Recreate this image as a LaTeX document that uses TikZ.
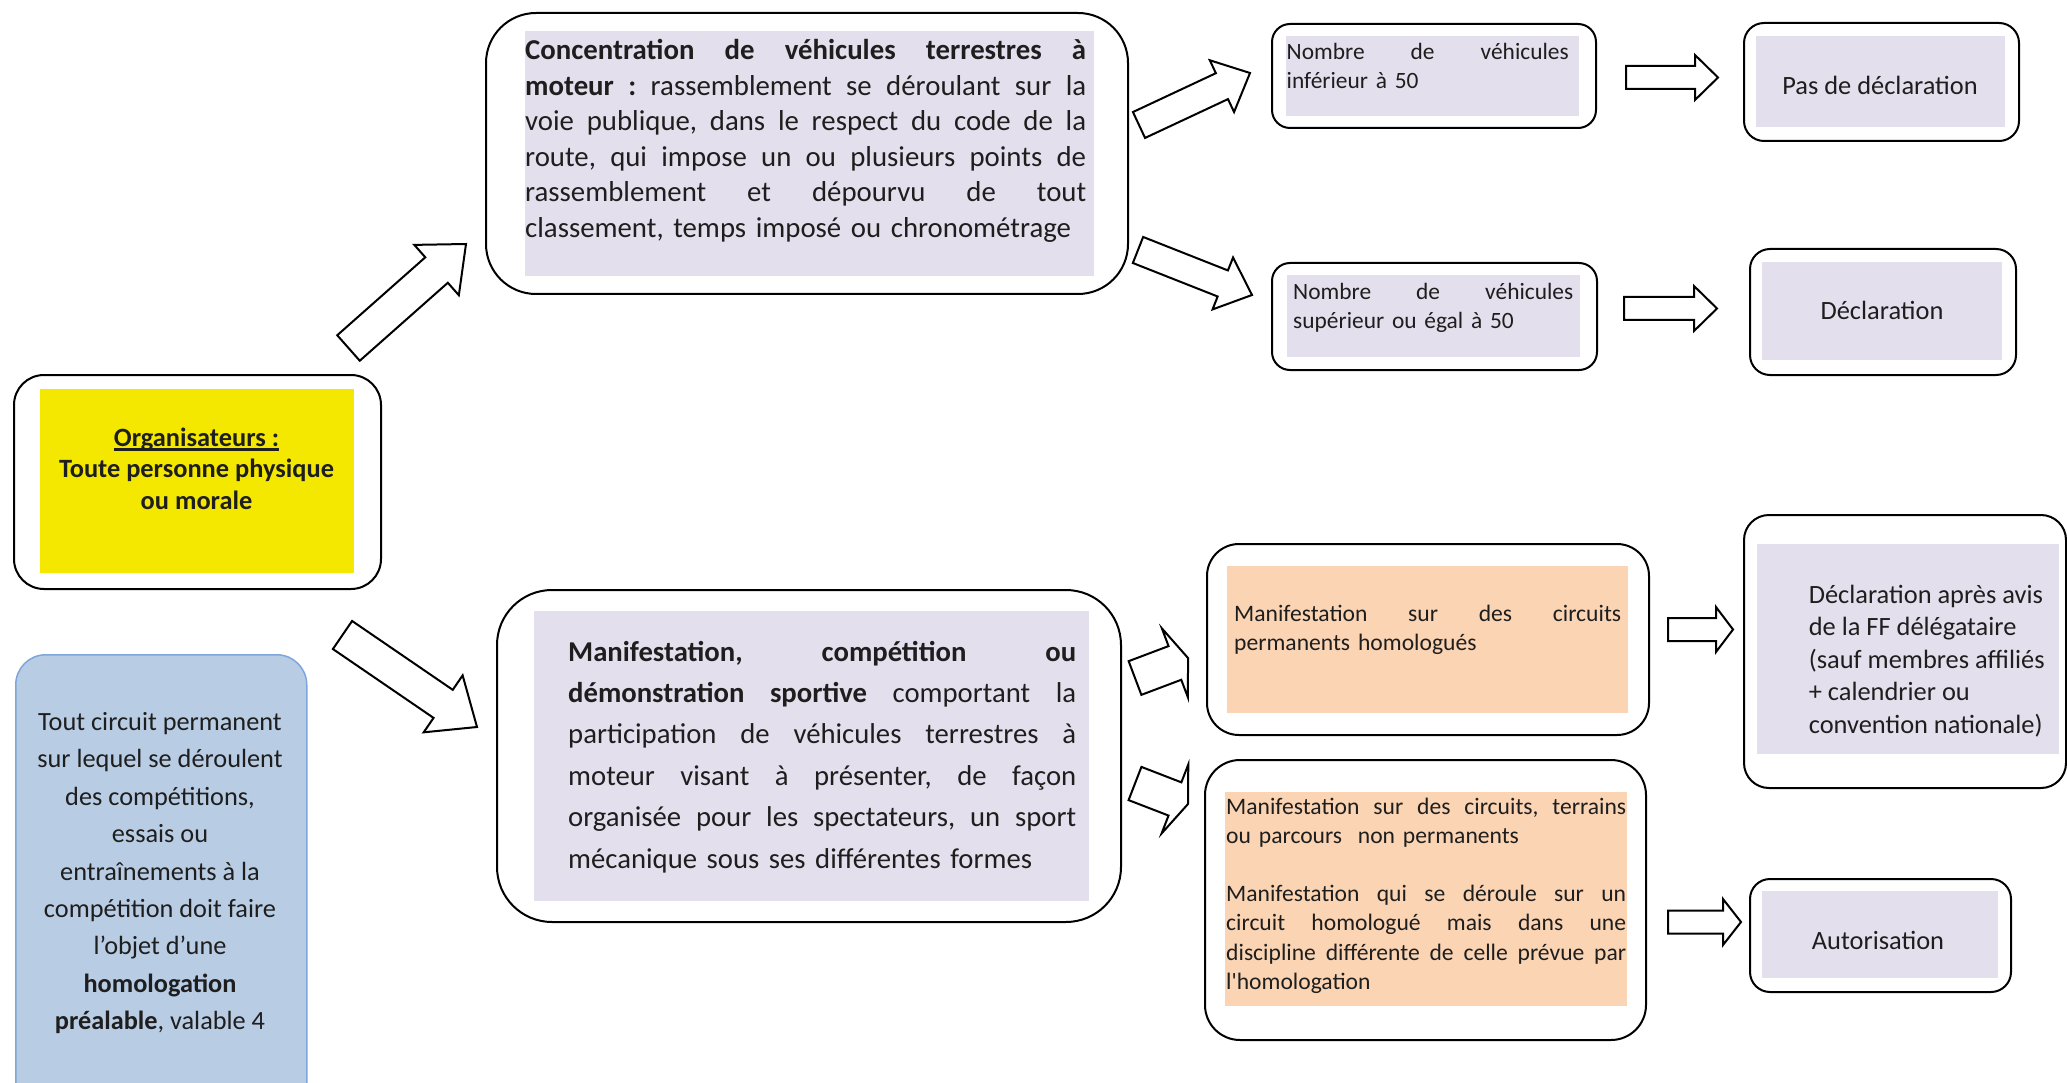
\documentclass[tikz,border=0pt]{standalone}
\usepackage{fontspec}
\setmainfont{Carlito}
\usetikzlibrary{calc}
\definecolor{lav}{HTML}{E4DFEC}
\definecolor{peach}{HTML}{FBD4B4}
\definecolor{yel}{HTML}{F5E800}
\definecolor{bluefill}{HTML}{B8CCE4}
\definecolor{blueline}{HTML}{7EA6DC}
\definecolor{txt}{HTML}{1E1E1E}
\newlength\jw
\newcommand\ulbox[1]{\setbox0\hbox{#1}\rlap{\rule[-4.6pt]{\wd0}{2.2pt}}\box0}
\newcommand\jl[1]{\leavevmode\hbox to \jw{\spaceskip=0pt\xspaceskip=0pt\frenchspacing #1}}
\newcommand\blockarrow[5]{%
  \path ($(#2)!#5!(#1)$) coordinate (hb);
  \draw[barrow] ($(#1)!#3!90:(#2)$) -- ($(#1)!#3!-90:(#2)$) -- ($(hb)!#3!-90:(#2)$)
    -- ($(hb)!#4!-90:(#2)$) -- (#2) -- ($(hb)!#4!90:(#2)$) -- ($(hb)!#3!90:(#2)$) -- cycle;}
\begin{document}
\begin{tikzpicture}[x=1pt,y=-1pt,
  obox/.style={draw=black, line width=2pt, fill=white, rounded corners=#1, inner sep=0pt, anchor=north west},
  ibox/.style={fill=#1, draw=none, inner sep=0pt, anchor=north west},
  tx/.style={text=txt, inner sep=0pt},
  barrow/.style={draw=black, line width=2pt, fill=white}]
\useasboundingbox (0,0) rectangle (2067,1083);
\fill[white] (0,0) rectangle (2067,1083);

% Organisateurs
\node[obox=30pt, minimum width=367pt, minimum height=214pt] (org) at (13,374) {};
\node[ibox=yel, minimum width=314pt, minimum height=184pt] (orgin) at (40,389) {};
\node[tx, font=\fontsize{26.4}{31.5}\selectfont\bfseries, align=center, anchor=base] (orgt) at (196.5,509)
  {\ulbox{Organisateurs :}\\Toute personne physique\\ou morale};

% Blue box
\node[draw=blueline, line width=1.5pt, fill=bluefill, rounded corners=30pt, inner sep=0pt, anchor=north west,
  minimum width=291pt, minimum height=460pt] (blue) at (15,654) {};
\node[tx, font=\fontsize{26.3}{37.4}\selectfont, align=center, anchor=base] (bluet) at (160,1029.7)
  {Tout circuit permanent\\sur lequel se déroulent\\des compétitions,\\essais ou\\entraînements à la\\compétition doit faire\\l’objet d’une\\\textbf{homologation}\\\textbf{préalable}, valable 4};

% Concentration
\node[obox=50pt, minimum width=642pt, minimum height=281pt] (conc) at (485,12) {};
\node[ibox=lav, minimum width=569pt, minimum height=245pt] (concin) at (525,31) {};
\node[tx, font=\fontsize{28.8}{35.6}\selectfont, text width=562pt, align=left, anchor=base west] (conct) at (525,59.5)
  {\setlength\jw{561pt}\jl{\textbf{Concentration de véhicules terrestres à}}\\\jl{\textbf{moteur :} rassemblement se déroulant sur la}\\\jl{voie publique, dans le respect du code de la}\\\jl{route, qui impose un ou plusieurs points de}\\\jl{rassemblement et dépourvu de tout}\\classement, temps imposé ou chronométrage};

% Nombre < 50
\node[obox=18pt, minimum width=324pt, minimum height=104pt] (ninf) at (1271,23) {};
\node[ibox=lav, minimum width=293pt, minimum height=80pt] (ninfin) at (1286,36) {};
\node[tx, font=\fontsize{23.4}{29}\selectfont, text width=283pt, align=left, anchor=base west] (ninft) at (1286.5,59.5)
  {\setlength\jw{282pt}\jl{Nombre de véhicules}\\inférieur à 50};

% Pas de declaration
\node[obox=20pt, minimum width=275pt, minimum height=118pt] (pas) at (1743,22) {};
\node[ibox=lav, minimum width=249pt, minimum height=91pt] (pasin) at (1756,36) {};
\node[tx, font=\fontsize{26.4}{31}\selectfont, anchor=base] (past) at (1880,95) {Pas de déclaration};

% Nombre >= 50
\node[obox=18pt, minimum width=325pt, minimum height=107pt] (nsup) at (1271,262) {};
\node[ibox=lav, minimum width=293pt, minimum height=82pt] (nsupin) at (1287,275) {};
\node[tx, font=\fontsize{23.4}{29}\selectfont, text width=281pt, align=left, anchor=base west] (nsupt) at (1293,299.5)
  {\setlength\jw{280pt}\jl{Nombre de véhicules}\\supérieur ou égal à 50};

% Declaration
\node[obox=20pt, minimum width=266pt, minimum height=126pt] (decl) at (1749,248) {};
\node[ibox=lav, minimum width=240pt, minimum height=98pt] (declin) at (1762,262) {};
\node[tx, font=\fontsize{26.4}{31}\selectfont, anchor=base] (declt) at (1882,319.5) {Déclaration};

% Manifestation
\node[obox=55pt, minimum width=624pt, minimum height=332pt] (manif) at (496,589) {};
\node[ibox=lav, minimum width=555pt, minimum height=290pt] (manifin) at (534,611) {};
\node[tx, font=\fontsize{28.7}{41.4}\selectfont, text width=509pt, align=left, anchor=base west] (manift) at (568,661)
  {\setlength\jw{508pt}\jl{\textbf{Manifestation, compétition ou}}\\\jl{\textbf{démonstration sportive} comportant la}\\\jl{participation de véhicules terrestres à}\\\jl{moteur visant à présenter, de façon}\\\jl{organisée pour les spectateurs, un sport}\\mécanique sous ses différentes formes};

% Circuits permanents
\node[obox=32pt, minimum width=442pt, minimum height=191pt] (perm) at (1206,543) {};
\node[ibox=peach, minimum width=401pt, minimum height=147pt] (permin) at (1227,566) {};
\node[tx, font=\fontsize{23.6}{29}\selectfont, text width=388pt, align=left, anchor=base west] (permt) at (1234,621)
  {\setlength\jw{387pt}\jl{Manifestation sur des circuits}\\permanents homologués};

% Non permanents
\node[obox=35pt, minimum width=441pt, minimum height=280pt] (nonp) at (1204,759) {};
\node[ibox=peach, minimum width=402pt, minimum height=214pt] (nonpin) at (1225,792) {};
\node[tx, font=\fontsize{23.6}{29.2}\selectfont, text width=401pt, align=left, anchor=base west] (nonpt) at (1226,814)
  {\setlength\jw{400pt}\jl{Manifestation sur des circuits, terrains}\\ou parcours~ non permanents\\\mbox{}\\\jl{Manifestation qui se déroule sur un}\\\jl{circuit homologué mais dans une}\\\jl{discipline différente de celle prévue par}\\l\textquotesingle homologation};

% Declaration apres avis
\node[obox=25pt, minimum width=322pt, minimum height=273pt] (daa) at (1743,514) {};
\node[ibox=lav, minimum width=302pt, minimum height=210pt] (daain) at (1757,544) {};
\node[tx, font=\fontsize{26.4}{32.6}\selectfont, align=left, anchor=base west] (daat) at (1808.6,733.4)
  {Déclaration après avis\\de la FF délégataire\\(sauf membres affiliés\\+ calendrier ou\\convention nationale)};

% Autorisation
\node[obox=20pt, minimum width=261pt, minimum height=113pt] (auto) at (1749,878) {};
\node[ibox=lav, minimum width=236pt, minimum height=87pt] (autoin) at (1762,891) {};
\node[tx, font=\fontsize{26.4}{31}\selectfont, anchor=base] (autot) at (1878,949.5) {Autorisation};

% Block arrows
\coordinate (a1s) at (348.5,348);   \coordinate (a1e) at (466,244);
\coordinate (a2s) at (342.5,635);   \coordinate (a2e) at (477,727);
\coordinate (a3s) at (1139,125);    \coordinate (a3e) at (1250,73);
\coordinate (a4s) at (1138,250);    \coordinate (a4e) at (1252,295);
\coordinate (a5s) at (1135,678);    \coordinate (a5e) at (1188,658);
\coordinate (a6s) at (1135,783.5);  \coordinate (a6e) at (1188,804);
\coordinate (h1s) at (1626,77.5);   \coordinate (h1e) at (1718,77.5);
\coordinate (h2s) at (1624,308.5);  \coordinate (h2e) at (1717,308.5);
\coordinate (h3s) at (1668,629.5);  \coordinate (h3e) at (1733,629.5);
\coordinate (h4s) at (1668,922);    \coordinate (h4e) at (1741,922);
\blockarrow{a1s}{a1e}{17pt}{33.6pt}{39.3pt}
\blockarrow{a2s}{a2e}{17pt}{34.5pt}{41pt}
\blockarrow{a3s}{a3e}{14.3pt}{28.6pt}{31pt}
\blockarrow{a4s}{a4e}{14pt}{27.9pt}{31.4pt}
\blockarrow{a5s}{a5e}{18pt}{37pt}{14pt}
\blockarrow{a6s}{a6e}{17.8pt}{37pt}{14pt}
\blockarrow{h1s}{h1e}{11.5pt}{22.5pt}{23pt}
\blockarrow{h2s}{h2e}{11.5pt}{22.5pt}{23pt}
\blockarrow{h3s}{h3e}{11.5pt}{22.5pt}{17pt}
\blockarrow{h4s}{h4e}{11.5pt}{23pt}{18pt}
\end{tikzpicture}
\end{document}
